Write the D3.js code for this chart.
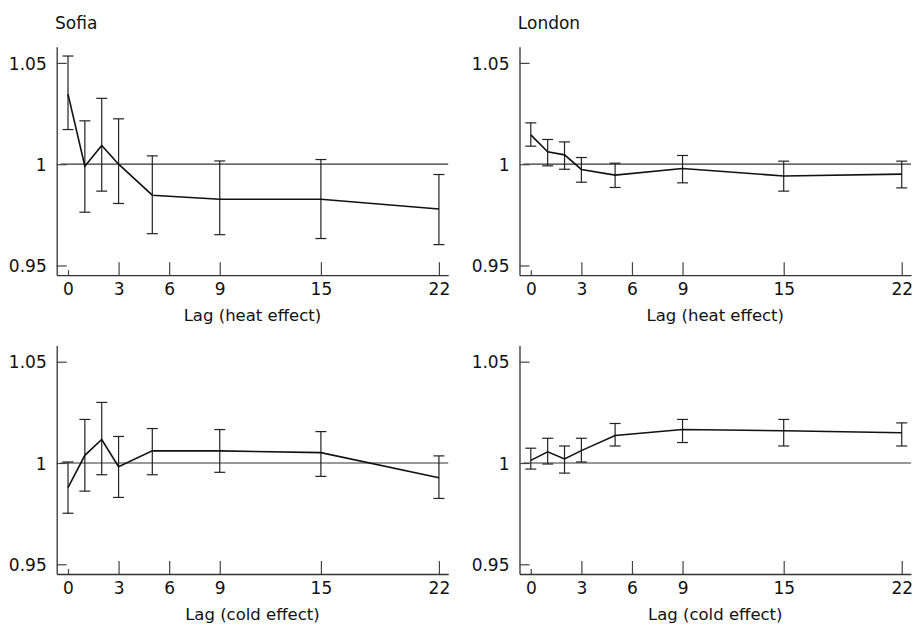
<!DOCTYPE html>
<html>
<head>
<meta charset="utf-8">
<script src="https://cdn.jsdelivr.net/npm/d3@7"></script>
<style>
  body { margin: 0; background: #fff; }
  text { font-family: "DejaVu Sans", sans-serif; fill: #111; }
</style>
</head>
<body>
<div id="chart"></div>
<script>
// lags used in every panel
var lags = [0, 1, 2, 3, 5, 9, 15, 22];
var lagTicks = [0, 3, 6, 9, 15, 22];
var rrTicks = [0.95, 1, 1.05];

// relative risk estimates and 95% CI
var sofiaHeat    = [1.0346, 0.9990, 1.0092, 1.0000, 0.9847, 0.9827, 0.9827, 0.9779];
var sofiaHeatLo  = [1.0171, 0.9763, 0.9867, 0.9806, 0.9657, 0.9652, 0.9633, 0.9603];
var sofiaHeatHi  = [1.0534, 1.0214, 1.0325, 1.0224, 1.0041, 1.0016, 1.0023, 0.9949];

var londonHeat   = [1.0145, 1.0061, 1.0046, 0.9974, 0.9946, 0.9979, 0.9942, 0.9951];
var londonHeatLo = [1.0089, 0.9992, 0.9975, 0.9911, 0.9885, 0.9908, 0.9867, 0.9883];
var londonHeatHi = [1.0204, 1.0122, 1.0110, 1.0033, 1.0005, 1.0043, 1.0015, 1.0015];

var sofiaCold    = [0.9878, 1.0038, 1.0116, 0.9982, 1.0060, 1.0060, 1.0051, 0.9927];
var sofiaColdLo  = [0.9752, 0.9861, 0.9942, 0.9830, 0.9942, 0.9954, 0.9934, 0.9825];
var sofiaColdHi  = [1.0005, 1.0215, 1.0299, 1.0131, 1.0170, 1.0165, 1.0155, 1.0035];

var londonCold   = [1.0013, 1.0055, 1.0020, 1.0061, 1.0136, 1.0165, 1.0159, 1.0149];
var londonColdLo = [0.9970, 0.9995, 0.9950, 1.0005, 1.0084, 1.0101, 1.0084, 1.0084];
var londonColdHi = [1.0073, 1.0122, 1.0084, 1.0122, 1.0195, 1.0215, 1.0215, 1.0198];

var panels = [
  { title: "Sofia",  xlab: "Lag (heat effect)", est: sofiaHeat,  lo: sofiaHeatLo,  hi: sofiaHeatHi,  left: 56.7,  top: 46.7 },
  { title: "London", xlab: "Lag (heat effect)", est: londonHeat, lo: londonHeatLo, hi: londonHeatHi, left: 519.5, top: 46.7 },
  { title: null,     xlab: "Lag (cold effect)", est: sofiaCold,  lo: sofiaColdLo,  hi: sofiaColdHi,  left: 56.7,  top: 345.5 },
  { title: null,     xlab: "Lag (cold effect)", est: londonCold, lo: londonColdLo, hi: londonColdHi, left: 519.5, top: 345.5 }
];

var W = 913, H = 626;
var width = 391.5, height = 228.5;

var svg = d3.select("#chart").append("svg")
    .attr("width", W)
    .attr("height", H);

var x = d3.scaleLinear().domain([-0.67, 22.55]).range([0, width]);
var y = d3.scaleLinear().domain([0.9452, 1.058]).range([height, 0]);

panels.forEach(function (p) {
    var g = svg.append("g").attr("transform", "translate(" + p.left + "," + p.top + ")");

    if (p.title) {
        g.append("text")
            .attr("x", -1.7)
            .attr("y", -17.7)
            .attr("font-size", 17)
            .text(p.title);
    }

    // reference line at RR = 1
    g.append("line")
        .attr("x1", 4).attr("x2", width)
        .attr("y1", y(1)).attr("y2", y(1))
        .attr("stroke", "#333").attr("stroke-width", 1.2);

    // y axis, ticks pointing inwards
    var ya = g.append("g")
        .call(d3.axisLeft(y).tickValues(rrTicks)
            .tickSizeInner(-10).tickSizeOuter(0).tickPadding(10)
            .tickFormat(function (d) { return d === 1 ? "1" : d3.format(".2f")(d); }));

    // x axis
    var xa = g.append("g")
        .attr("transform", "translate(0," + height + ")")
        .call(d3.axisBottom(x).tickValues(lagTicks)
            .tickSizeInner(-13).tickSizeOuter(0).tickPadding(8));
    xa.selectAll(".tick").filter(function (d) { return d === 0; })
        .select("line").attr("y2", -5);

    [ya, xa].forEach(function (a) {
        a.select(".domain").attr("stroke", "#333").attr("stroke-width", 1.3);
        a.selectAll(".tick line").attr("stroke", "#444").attr("stroke-width", 1.2);
        a.selectAll(".tick text")
            .attr("font-size", 17)
            .attr("font-family", "DejaVu Sans, sans-serif")
            .attr("fill", "#111");
    });
    ya.selectAll(".tick text").attr("dy", "0.36em");

    // x axis title
    g.append("text")
        .attr("x", width / 2)
        .attr("y", height + 45.5)
        .attr("text-anchor", "middle")
        .attr("font-size", 16.5)
        .text(p.xlab);

    // error bars
    var bars = g.append("g").selectAll("g.bar")
        .data(lags.map(function (l, i) { return { lag: l, lo: p.lo[i], hi: p.hi[i] }; }))
        .enter().append("g")
        .attr("stroke", "#222").attr("stroke-width", 1.2);
    bars.append("line")
        .attr("x1", function (d) { return x(d.lag); })
        .attr("x2", function (d) { return x(d.lag); })
        .attr("y1", function (d) { return y(d.lo); })
        .attr("y2", function (d) { return y(d.hi); });
    bars.append("line")
        .attr("x1", function (d) { return x(d.lag) - 5.5; })
        .attr("x2", function (d) { return x(d.lag) + 5.5; })
        .attr("y1", function (d) { return y(d.hi); })
        .attr("y2", function (d) { return y(d.hi); });
    bars.append("line")
        .attr("x1", function (d) { return x(d.lag) - 5.5; })
        .attr("x2", function (d) { return x(d.lag) + 5.5; })
        .attr("y1", function (d) { return y(d.lo); })
        .attr("y2", function (d) { return y(d.lo); });

    // estimate line
    var line = d3.line()
        .x(function (d, i) { return x(lags[i]); })
        .y(function (d) { return y(d); });
    g.append("path")
        .datum(p.est)
        .attr("fill", "none")
        .attr("stroke", "#111")
        .attr("stroke-width", 1.6)
        .attr("d", line);
});
</script>
</body>
</html>
